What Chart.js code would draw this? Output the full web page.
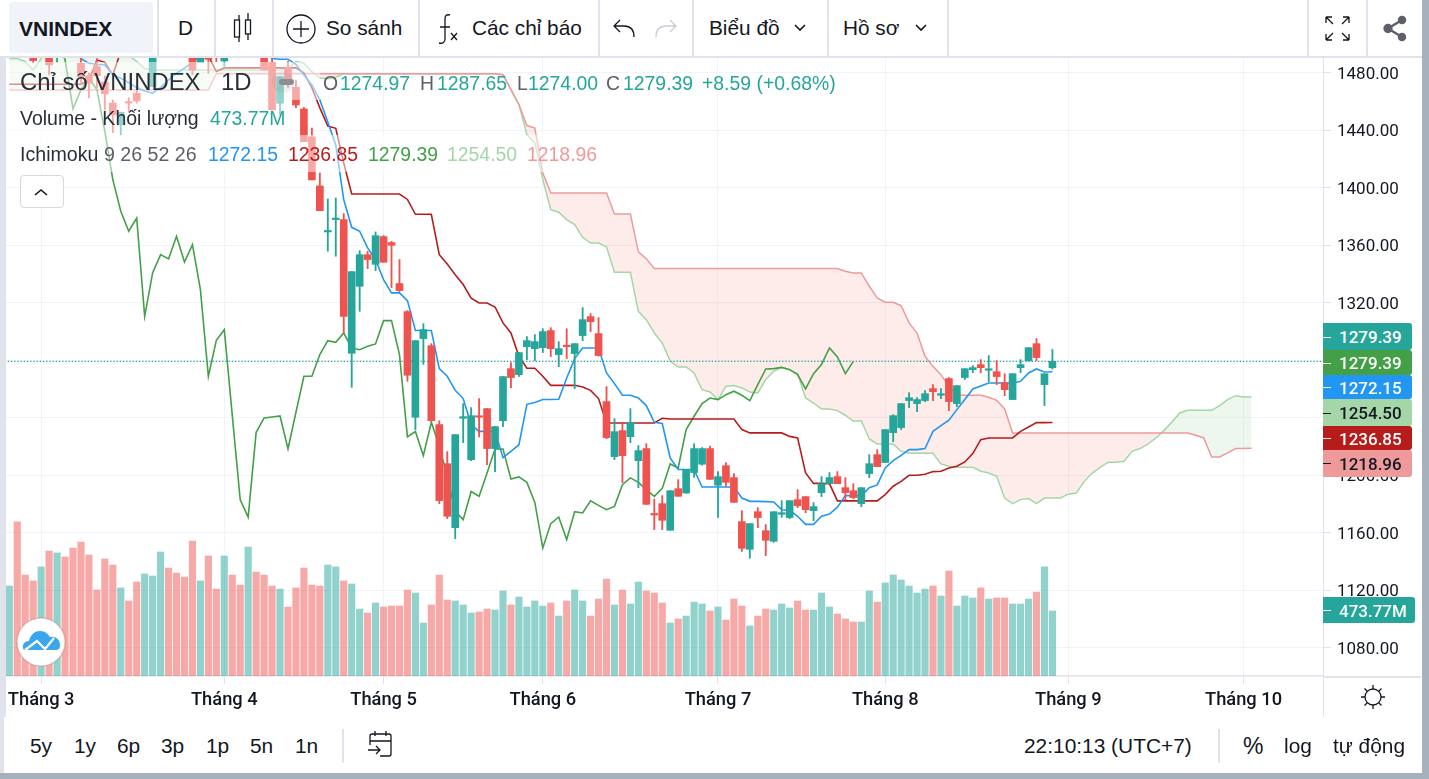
<!DOCTYPE html>
<html><head><meta charset="utf-8">
<style>
html,body{margin:0;padding:0;width:1429px;height:779px;overflow:hidden;background:#fff;font-family:"Liberation Sans",Arial,sans-serif;color:#131722}
canvas{position:absolute;left:0;top:0;z-index:1}
.o{position:absolute;white-space:nowrap;z-index:3;line-height:1}
.b{position:absolute;z-index:2}
svg{position:absolute;z-index:3;overflow:visible}
</style></head><body>
<canvas id="c" width="1429" height="779" style="width:1429px;height:779px"></canvas>
<div id="ov"></div>
<script src="https://cdn.jsdelivr.net/npm/chart.js@4/dist/chart.umd.min.js"></script>
<script>
const xTickIndex=[4,27,47,67,89,110,133,155];
const xTickLabels=["Tháng 3","Tháng 4","Tháng 5","Tháng 6","Tháng 7","Tháng 8","Tháng 9","Tháng 10"];
const yTicks=[1080,1120,1160,1200,1240,1280,1320,1360,1400,1440,1480];
const lastClose=1279.39;

const open=[1505,1530,1512,1498,1496,1498,1494,1510,1504,1486.7,1478.1,1484.4,1473.7,1459,1443.8,1459.4,1465.9,1492,1470.5,1505,1525,1520,1512,1500,1487.4,1495,1500,1488.3,1510,1508,1498,1512,1500,1487.4,1458.9,1484,1470,1455,1435.5,1401.4,
1369.4,1378,1378,1285,1331.6,1353.6,1346.9,1366.2,1362,1333.5,1314,1240.5,1295.2,1290.3,1235.4,1208.2,1163.7,1239.8,1211,1240.9,1246.5,1218.7,1238.1,1274.3,1270.1,1289.6,1288.2,1288.9,1300.8,1284.1,1290.3,1284.8,1297.3,1310.5,1298.7,1251.4,1213.1,1231.2,1227,1210.3,
1218.7,1173.2,1180.4,1161.9,1190.8,1187.8,1202,1207.8,1218.7,1193.2,1206.8,1198.5,1167.9,1148.6,1174.8,1161.6,1154.2,1173,1170.7,1183.2,1185.3,1175.5,1188,1194.3,1199.2,1191.5,1189.4,1180.4,1201.3,1214.5,1209,1229.8,1233.3,1252.1,1250,1252.1,1260.4,1255.8,1267.4,1250,1268.1,1273.6,1277.1,1273.2,1272.2,1264.6,1252.8,1275,1279.7,1291.7,1263.2,1274.97];
const high=[1515,1535,1516,1501,1506,1500,1503,1512,1510,1492,1480,1490,1478,1461.2,1452.7,1462.8,1470,1505,1510,1515,1530,1525,1515,1503,1500,1497,1504,1505,1515,1512,1512,1515,1505,1496,1477.4,1488,1475,1456,1441.7,1410.4,
1392.3,1393,1382.2,1341.8,1356.4,1356,1369.4,1366.9,1362.9,1350.2,1314.7,1293.8,1305.6,1291.7,1238.1,1216.6,1228.4,1250,1247.2,1253.5,1246.5,1234,1268.8,1278.5,1285.5,1296.6,1298,1302.1,1302.8,1293.1,1302.1,1291.7,1316.8,1312.6,1309.8,1261.8,1239.5,1236,1246.5,1220.8,
1222.1,1183.6,1186,1189.4,1197.1,1204.1,1222.1,1219.4,1220.5,1202.7,1209,1201.3,1175.5,1166.5,1177.6,1165.8,1174.8,1182.5,1182.5,1190.1,1185.3,1181.1,1199.2,1202,1202.7,1198.5,1194.3,1191.5,1214.5,1218,1231.9,1242.3,1250,1257.6,1254.1,1259,1263.2,1260.4,1268.1,1262.5,1274.3,1276.4,1280.6,1283.4,1279.9,1270.8,1270.8,1280.6,1288.9,1295.2,1270.8,1287.65];
const low=[1500,1510,1500,1487,1494,1478.6,1487.4,1498,1492,1473,1462.6,1469.6,1454.3,1438.5,1436.9,1453,1459,1491.5,1470.5,1500,1512,1505,1500,1478.6,1487.4,1479.8,1487.9,1483.7,1500,1498,1496,1500,1482,1454.3,1450.8,1470,1455.9,1432.2,1405.6,1384.2,
1356,1352.5,1299,1261.3,1314.2,1343.9,1342.5,1348.3,1330.7,1327.9,1265.5,1231.9,1277.3,1237.4,1180.4,1170,1156,1222.8,1210.3,1226.8,1207.5,1202.7,1234,1261.1,1268.8,1280.6,1279.9,1285.5,1282.7,1275.7,1281.3,1260.4,1293.8,1300.1,1283,1225.6,1211,1195,1222.8,1191.5,
1179.9,1162.3,1162.3,1161.9,1185.5,1187.6,1198.7,1207.1,1197.3,1170.9,1192.5,1181.3,1147.2,1142.4,1163.7,1144.2,1153.5,1170.9,1170,1177.6,1174.1,1168.6,1185.3,1194.3,1194.3,1183.2,1183.9,1178.3,1198.5,1206.1,1209,1223.5,1231.9,1247.2,1244.4,1251.4,1252.1,1253.4,1245.1,1247.9,1266.7,1271.5,1271.5,1265.3,1263.2,1255.5,1252.8,1271.5,1279.7,1279.9,1248.6,1274];
const close=[1512,1515,1503,1488.6,1503,1485.6,1500,1500,1495,1477.4,1472.8,1478.1,1465.4,1450.8,1452.7,1459,1460.5,1502,1505,1512,1515,1510,1504,1482.1,1497,1489.5,1495,1500,1503,1500,1508,1504,1482.1,1454.3,1477.4,1472.1,1457.7,1432.2,1405.6,1384.2,
1370.4,1378.8,1310.7,1341.8,1353.6,1350.2,1366.8,1348.3,1360.1,1328.6,1269.7,1293.8,1301.5,1238.1,1182.5,1171.6,1228.4,1240.9,1241.6,1240.5,1218.7,1234,1268.8,1268.1,1285.5,1293.8,1293.1,1300.1,1288.2,1288.2,1289.6,1291.7,1308.4,1307,1283.4,1226.3,1230.5,1213.8,1236.8,1217.3,
1179.9,1172.5,1168.8,1189.4,1185.5,1204.1,1218.7,1218.7,1197.3,1199.2,1195.2,1181.3,1149.3,1166.5,1170.7,1154.9,1174.8,1174.1,1182.5,1179,1176.2,1178.3,1194.3,1198.5,1194.3,1188,1184.6,1191.5,1208.2,1206.1,1231.9,1241.6,1250,1254.1,1252.8,1256.9,1258.3,1256.9,1251.4,1262.5,1274.3,1275,1275,1273.6,1268.8,1259.7,1270.8,1277.1,1288.9,1282,1270.8,1279.39];

const volume=[656,1123,736,693,795,911,897,868,933,977,882,627,853,809,642,547,685,744,729,904,787,751,722,984,693,875,634,875,736,663,940,758,736,656,634,503,642,787,663,656,
809,795,693,671,488,459,532,503,510,510,627,605,386,518,736,554,547,518,459,467,488,481,620,518,576,503,547,510,532,437,547,627,547,437,561,707,518,627,525,685,
620,605,532,386,416,437,539,525,474,503,408,561,510,365,437,488,481,525,496,547,481,481,605,503,452,416,394,394,620,539,678,736,700,656,605,634,656,583,765,510,583,569,642,561,569,569,525,525,561,612,795,473.77];

const tenkan=[1500,1500,1500,1500,1500,1500,1500,1500,1496,1490,1486.7,1486,1485.6,1478.6,1476.3,1473.3,1469.8,1467.5,1465.9,1470,1475.1,1479.8,1483.3,1487.4,1492,1496,1500,1500,1500,1500,1500,1500,1496,1490,1489.5,1489.5,1486,1478.6,1471.7,1461.2,
1445.9,1429.9,1391.9,1372.6,1369.9,1358.3,1350.2,1336.2,1327,1327,1321.6,1300.8,1300.8,1300.8,1274.3,1269,1259.2,1253.5,1235.4,1230.7,1230.7,1230.7,1212.4,1216.8,1221.4,1249.5,1250.7,1252.8,1252.8,1253,1267.8,1281.3,1288.7,1288.7,1288.7,1271.3,1263.9,1255.8,1255.8,1253.9,
1248.6,1237,1236.1,1212.2,1204.1,1204.1,1204.1,1192,1192,1192,1192,1192,1184.3,1182,1182,1181.8,1181.6,1176.2,1175.8,1171.6,1166,1166,1171.6,1173.2,1177.9,1186,1186,1186,1191.5,1193.4,1205.2,1210.3,1214,1218,1218,1218.7,1230.7,1234.7,1238.4,1245.8,1252.8,1260.2,1262.3,1264.3,1264.3,1264.3,1264.3,1265.5,1271.3,1274.1,1272,1272.15];

const kijun=[1472.1,1472.1,1472.1,1472.1,1472.1,1472.1,1472.1,1472.1,1472.1,1472.1,1475,1489,1487.4,1478.6,1495,1495,1495,1495,1495,1495,1495,1495,1495,1495,1495,1492,1481,1483.5,1483.5,1483.5,1483.5,1483.5,1483.5,1483.5,1483.5,1483.5,1483.5,1480,1469.6,1455.7,
1443.1,1441.5,1417.4,1395.8,1395.8,1395.8,1395.8,1395.8,1395.8,1395.8,1392,1381.7,1381.7,1381.7,1353.6,1347.1,1339.7,1332.8,1323.3,1320,1320,1317.2,1306.1,1299.1,1282.9,1274.6,1274.6,1269,1262.7,1262.7,1262.7,1262.7,1261.6,1259.2,1253.5,1236.5,1236.5,1236.5,1236.5,1236.5,
1236.5,1236.5,1239.8,1239.3,1239.3,1239.3,1239.3,1239.3,1239.3,1239.3,1239.3,1239.3,1231.9,1229.6,1229.6,1229.6,1229.6,1229.6,1227.2,1226.1,1201.7,1194.5,1194.5,1194.3,1182.3,1182.3,1182.3,1182.3,1182.3,1182.3,1186.7,1192.5,1195.9,1200.1,1200.1,1200.8,1202.7,1202.9,1205.2,1206.4,1209.4,1215.2,1224.9,1226.1,1226.1,1226.1,1226.1,1230.7,1233.7,1236.75,1236.75,1236.85];

const chikou=[1500,1500,1500,1500,1500,1500,1500,1489.3,1455,1468.4,1476.5,1468.4,1439.4,1405.8,1383.8,1369.9,1379.1,1310.7,1340.9,1353.6,1350.6,1366.4,1348.5,1360.6,1329.3,1269,1294,1301.4,1242,1183,1171,1230,1240,1240.7,1241.4,1218.4,1244,1269,1269,1284.1,
1293.8,1292.6,1299.1,1288.7,1287.5,1289.9,1291.5,1307.7,1307.7,1284.1,1226.8,1230.5,1213.8,1237,1220.3,1199.4,1175.1,1169.3,1188.8,1185.5,1201.7,1218.4,1218.4,1197.6,1199,1195.2,1181.3,1149.6,1166.5,1171.1,1155.4,1174.8,1173.9,1182.3,1179.2,1176.2,1178.5,1193.6,1198.3,1195.2,
1190.1,1185.5,1191,1208,1205.2,1231.9,1241.2,1250,1253.9,1252.8,1256.2,1258.6,1255.8,1252.1,1263.2,1274.1,1274.3,1275.2,1273.6,1270.1,1260.2,1270.8,1277.1,1288.7,1282.4,1270.8,1279.39];

const senkouA=[1490,1490,1488,1482,1490,1495,1495,1495,1495,1495,1495,1495,1495,1495,1495,1492,1488,1483,1482,1482,1482,1482,1482,1482,1482,1482,1482,1482,1482,1482,1482,1482,1482,1482,1482,1483,1488,1487,1481,1476.5,
1476,1477,1479.5,1479.5,1479.5,1479.5,1479.5,1479.5,1479.5,1479.5,1479.5,1479.5,1479.5,1479.5,1479.5,1479.5,1479.5,1479.5,1479.5,1479.5,1479.5,1479.5,1478.8,1468.4,1458,1437.1,1431.3,1405.8,1384.9,1383.1,1378,1374.5,1365.7,1361.7,1361.7,1359,1341.3,1341.3,1341.3,1314.2,
1308.4,1299.1,1292.2,1279.4,1275.5,1275.5,1271.3,1259.7,1258.1,1252.8,1262,1262.5,1260.9,1258.1,1257.4,1266.7,1272.5,1275.2,1273.6,1270.8,1253.9,1250.4,1246.3,1246.3,1245.1,1241.9,1237.7,1238.1,1225.4,1221.9,1221.9,1221.9,1216.8,1215.4,1215.4,1215.4,1215.4,1208,1206.4,1205.7,1205.7,1205.7,1202.9,1201.7,1199.4,1184.3,1180.4,1183.2,1183.9,1180.4,
1184.3,1184.3,1184.3,1187,1187.8,1195.9,1201.7,1205.7,1209.2,1209.2,1209.9,1216.8,1218.7,1221.9,1226.1,1231.2,1237.2,1243.5,1245.3,1245.3,1245.3,1245.3,1248.6,1252.8,1255.5,1254.6,1254.5];

const senkouB=[1468.2,1468.2,1468.2,1468.2,1468.2,1468.2,1468.2,1468.2,1468.2,1468.2,1468.2,1468.2,1468.2,1468.2,1468.2,1468.2,1468.2,1468.2,1468.2,1468.2,1468.2,1468.2,1468.2,1468.2,1468.2,1468.2,1479.5,1479.5,1479.5,1479.5,1479.5,1479.5,1479.5,1479.5,1479.5,1479.5,1479.5,1479.5,1479.5,1479.5,
1479.5,1479.5,1479.5,1479.5,1479.5,1479.5,1479.5,1479.5,1479.5,1479.5,1479.5,1479.5,1479.5,1479.5,1479.5,1479.5,1479.5,1479.5,1479.5,1479.5,1479.5,1479.5,1478.8,1468.4,1458,1443.4,1441.7,1410.4,1396.5,1396.5,1396.5,1396.5,1396.5,1396.5,1396.5,1396.5,1381.9,1381.9,1381.9,1355.5,
1350.8,1343.9,1343.9,1343.9,1343.9,1343.9,1343.9,1343.9,1343.9,1343.9,1343.9,1343.9,1343.9,1343.9,1343.9,1343.9,1343.9,1343.9,1343.9,1343.9,1343.9,1343.9,1343.9,1343.9,1343.9,1342,1340.9,1340.9,1331.6,1323.5,1320.5,1320.5,1318.1,1306.1,1299.1,1282.9,1275.9,1270.1,1262,1256.2,1255.8,1255.8,1255.8,1254.4,1252.3,1246.3,1229.6,1229.6,1229.6,1229.6,
1229.6,1229.6,1229.6,1229.6,1229.6,1229.6,1229.6,1229.6,1229.6,1229.6,1229.6,1229.6,1229.6,1229.6,1229.6,1229.6,1229.6,1229.6,1229.6,1228,1226.1,1212.9,1212.9,1215.7,1218.7,1218.7,1218.96];

const UP='#26a69a',DOWN='#ef5350',UPV='rgba(38,166,154,.5)',DOWNV='rgba(239,83,80,.5)';
const isUp=i=>close[i]>=open[i];
const line=(arr)=>arr.map((v,i)=>({x:i,y:v}));
const lineDs=(arr,color,width,order,extra)=>Object.assign({type:'line',data:line(arr),borderColor:color,borderWidth:width,pointRadius:0,tension:0,fill:false,order,yAxisID:'y'},extra||{});

new Chart(document.getElementById('c'),{
  data:{datasets:[
    {type:'bar',data:volume.map((v,i)=>({x:i,y:v})),backgroundColor:volume.map((_,i)=>isUp(i)?UPV:DOWNV),barThickness:6.5,grouped:false,yAxisID:'v',order:20},
    lineDs(senkouA,'#a5d6a7',1.5,12,{fill:{target:2,above:'rgba(165,214,167,.2)',below:'rgba(245,120,115,.14)'}}),
    lineDs(senkouB,'#ef9a9a',1.5,11),
    lineDs(chikou,'#43a047',1.6,10),
    lineDs(kijun,'#b71c1c',1.6,9),
    lineDs(tenkan,'#2196f3',1.6,8),
    {type:'line',data:[{x:-1,y:lastClose},{x:166,y:lastClose}],borderColor:'#26a69a',borderWidth:1.3,borderDash:[1.3,1.9],pointRadius:0,order:7,yAxisID:'y'},
    {type:'bar',data:open.map((_,i)=>({x:i,y:[low[i],high[i]]})),backgroundColor:open.map((_,i)=>isUp(i)?UP:DOWN),barThickness:1.2,grouped:false,yAxisID:'y',order:2},
    {type:'bar',data:open.map((_,i)=>({x:i,y:[open[i],close[i]]})),backgroundColor:open.map((_,i)=>isUp(i)?UP:DOWN),barThickness:7,minBarLength:1.5,grouped:false,yAxisID:'y',order:1}
  ]},
  options:{
    responsive:false,animation:false,devicePixelRatio:1,
    layout:{padding:{left:6,top:58,right:23,bottom:63}},
    plugins:{legend:{display:false},tooltip:{enabled:false}},
    scales:{
      x:{type:'linear',min:-0.414,max:164.98,offset:false,
        afterBuildTicks:s=>{s.ticks=xTickIndex.map(v=>({value:v}))},
        afterFit:s=>{s.height=40},
        grid:{offset:false,color:'#f0f3fa',tickColor:'#e0e3eb',tickLength:8,lineWidth:1},
        border:{color:'#e0e3eb',width:1.5},
        ticks:{autoSkip:false,maxRotation:0,padding:5,color:'#131722',font:{family:'Roboto',size:18.3,weight:'500'},
          callback:v=>xTickLabels[xTickIndex.indexOf(v)]}},
      y:{position:'right',min:1060.5,max:1490.4,
        afterBuildTicks:s=>{s.ticks=yTicks.map(v=>({value:v}))},
        afterFit:s=>{s.width=83;
          if(!s._shifted){s._shifted=true;const orig=s.drawLabels;s.drawLabels=function(a){const c=this.ctx;c.save();c.translate(0,1.5);orig.call(this,a);c.restore()}}},
        grid:{color:'#f0f3fa',tickColor:'#e0e3eb',tickLength:8,lineWidth:1},
        border:{color:'#e0e3eb',width:1},
        ticks:{padding:6,color:'#131722',font:{family:'Roboto',size:17},callback:v=>v.toFixed(2)}},
      v:{display:false,min:0,max:4505}
    }
  }
});

const ov=document.getElementById('ov');
function box(x,y,w,h,bg,extra){const d=document.createElement('div');d.className='b';d.style.cssText=`left:${x}px;top:${y}px;width:${w}px;height:${h}px;background:${bg};${extra||''}`;ov.appendChild(d);return d}
function T(x,y,s,st){const d=document.createElement('div');d.className='o';d.textContent=s;d.style.cssText=`left:${x}px;top:${y}px;transform:translateY(-50%);${st||''}`;ov.appendChild(d);return d}

// frame
box(0,0,1429,56,'#fff');box(0,56,1429,2,'#e0e3eb');
box(0,58,6,715,'#e0e3eb');box(1421.5,0,8,779,'#a6b1bb');box(0,773,1429,6,'#a6b1bb');
box(1323,676,98,1.5,'#e0e3eb');box(1323,676,1,41,'#e0e3eb');box(4,717,1417.5,56,'#fff');
box(9,2,144,51,'#f0f3fa','border-radius:4px');
[157,214,272,418,598,692,827,947,1307,1366].forEach(x=>box(x,0,1.5,56,'#e0e3eb'));
// legend washes
box(6,62,314,38,'rgba(255,255,255,.5)');box(6,100,286,35,'rgba(255,255,255,.5)');box(6,135,599,37,'rgba(255,255,255,.5)');
// toolbar text
const tb='font-size:20.8px;color:#131722;';
T(19,28,'VNINDEX','font-size:21px;font-weight:700;');
T(178,28,'D',tb);T(326,28,'So sánh',tb);T(472,28,'Các chỉ báo',tb);T(709,28,'Biểu đồ',tb);T(843,28,'Hồ sơ',tb);
// legend
const L='font-size:19.4px;',G='#26a69a',Gy='color:#5d606b;';
T(20,82,'Chỉ số VNINDEX','font-size:23.9px;color:#2a2e39');T(221,82,'1D','font-size:23.9px;color:#2a2e39');
T(323,84,'O',L+Gy);T(340,84,'1274.97',L+'color:'+G);T(420,84,'H',L+Gy);T(437,84,'1287.65',L+'color:'+G);T(517,84,'L',L+Gy);T(528,84,'1274.00',L+'color:'+G);T(606,84,'C',L+Gy);T(623,84,'1279.39',L+'color:'+G);T(702,84,'+8.59 (+0.68%)',L+'color:'+G);
T(20,119,'Volume - Khối lượng','font-size:19.5px;color:#2a2e39');T(210,119,'473.77M',L+'color:'+G);
T(20,155,'Ichimoku','font-size:19.6px;color:#2a2e39');T(104,155,'9 26 52 26','font-size:19.6px;'+Gy);
T(208,155,'1272.15',L+'color:#2196f3');T(288,155,'1236.85',L+'color:#b71c1c');T(368,155,'1279.39',L+'color:#43a047');T(447,155,'1254.50',L+'color:#a5d6a7');T(527,155,'1218.96',L+'color:#ef9a9a');
box(20,175,42,31,'#fff','border:1px solid #d6d8e0;border-radius:4px;z-index:3');
// price labels
[[323.3,26.7,'#26a69a','1279.39','#fff',1412],[350,25,'#43a047','1279.39','#fff',1412],[375,24.3,'#2196f3','1272.15','#fff',1412],[399.3,26.7,'#a5d6a7','1254.50','#131722',1412],[426,24,'#b71c1c','1236.85','#fff',1412],[450,26.7,'#ef9a9a','1218.96','#131722',1412],[596.7,26.6,'#26a69a','473.77M','#fff',1415]].forEach(p=>{
  box(1323,p[0],p[5]-1323,p[1],p[2],'z-index:2;border-radius:0 3px 3px 0');
  box(1323,p[0]+p[1]/2,8,1,p[4]);
  T(1339,p[0]+p[1]/2+0.5,p[3],'font-family:Roboto;font-size:17px;font-weight:500;color:'+p[4]);
});
// bottom bar
const bb='font-size:20.9px;color:#131722;';
[['5y',30],['1y',74],['6p',117],['3p',161],['1p',206],['5n',250],['1n',295]].forEach(a=>T(a[1],746,a[0],bb));
box(342,729,1.5,34,'#e0e3eb');box(1218,729,1.5,34,'#e0e3eb');
T(1024,746,'22:10:13 (UTC+7)',bb);T(1243,746,'%','font-size:23px;color:#131722');T(1284,746,'log',bb);T(1333,746,'tự động',bb);
</script>
<svg style="left:0;top:0" width="1429" height="779" fill="none" stroke="#131722" stroke-width="1.3">
 <path d="M239 15v5M239 37v5M248 13v7M248 34v6"/><rect x="234.5" y="20" width="5" height="17"/><rect x="245.5" y="20" width="5" height="14"/>
 <circle cx="301" cy="29" r="14"/><path d="M301 21v16M293 29h16"/>
 <path d="M450 15c-4-1-5 1-5 4v20c0 3-2 5-6 4M440 27h10M451 33l6 7M457 33l-6 7"/>
 <path d="M634 37c0-9-5-11-10-11h-9M620 20l-6 6 6 6"/>
 <path d="M656 37c0-9 5-11 10-11h9M670 20l6 6-6 6" stroke="#c8ccd4"/>
 <path d="M795 25l5 5 5-5M916 25l5 5 5-5" stroke-width="1.6"/>
 <path d="M35 195l6-5 6 5" stroke-width="1.6"/>
 <path d="M1326 17l7 7M1326 17h6M1326 17v6M1349 17l-7 7M1349 17h-6M1349 17v6M1326 40l7-7M1326 40h6M1326 40v-6M1349 40l-7-7M1349 40h-6M1349 40v-6"/>
 <g fill="#5d606b" stroke="#5d606b" stroke-width="2.5"><circle cx="1402" cy="20" r="3"/><circle cx="1402" cy="37" r="3"/><circle cx="1388" cy="28.5" r="3.4"/><path d="M1402 20l-14 8.5 14 8.5" fill="none"/></g>
 <circle cx="1373" cy="697" r="8"/><path d="M1373 685v4M1373 705v4M1361 697h4M1381 697h4M1364.5 688.5l3 3M1378.5 702.5l3 3M1381.5 688.5l-3 3M1364.5 705.5l3-3"/>
 <path d="M370 745v-9a2 2 0 0 1 2-2h17a2 2 0 0 1 2 2v18a2 2 0 0 1-2 2h-9M370 741h21M375 731v5M386 731v5M368 750h12M376 746l4 4-4 4"/>
 <circle cx="283" cy="82" r="11" fill="rgba(120,123,134,.12)" stroke="none"/><rect x="279" y="79" width="15" height="6" rx="3" fill="#8d8d95" stroke="none"/>
 <circle cx="41" cy="642" r="24" fill="#fff" stroke="rgba(150,80,80,.25)" stroke-width="1.5"/>
 <path d="M24 650c-3-4 0-9 5-9 2-7 6-10 11-10 5 0 8 3 10 6 5-1 10 2 10 8 0 3-1 5-5 5z" fill="#3aa6f0" stroke="none"/>
 <path d="M25 650l12-9 8 8 9-11" stroke="#fff" stroke-width="2.2"/>
</svg>
</body></html>
